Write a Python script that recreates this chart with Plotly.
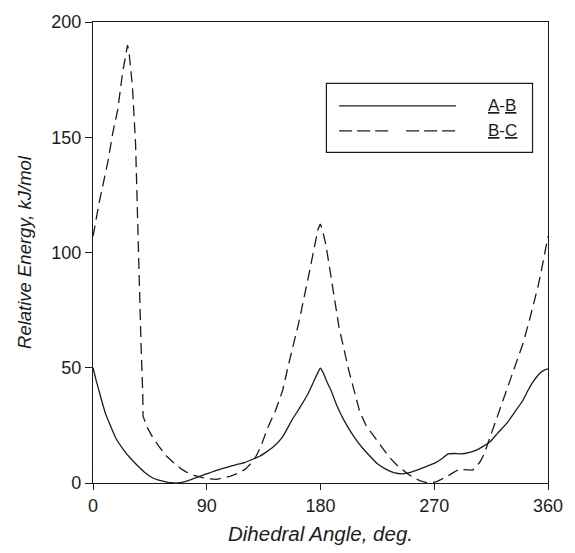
import plotly.graph_objects as go

# Solid curve A-B
ab_angle = [0, 2.5, 5, 7.5, 10, 13, 18, 24.3, 30, 35.7, 41, 47, 52, 58.3, 62, 66.6, 72, 78, 85,
            92.3, 99, 106.5, 113, 120.5, 126, 131.9, 137, 143.2, 150, 157.4, 164, 170.2, 175, 178,
            179.8, 182, 185, 188.3, 193, 198.5, 206.3, 212.7, 219.2, 225, 232, 238, 244.9, 251,
            257.8, 264, 270.7, 276, 281, 286, 291.3, 298, 304.2, 309, 314.4, 320, 327.3, 334,
            340.2, 344, 348, 351, 354.4, 357, 360]
ab_energy = [50, 44.5, 39.5, 34.5, 30, 25.9, 19.5, 14.3, 10.5, 7.3, 4.6, 2.3, 1.2, 0.4, 0.1, 0, 0.5, 1.6, 3,
             4.4, 5.7, 6.9, 7.9, 9, 10.2, 11.6, 13.4, 15.9, 20, 27.3, 33, 38.8, 44.5, 48,
             49.8, 48, 44, 40.2, 33.5, 27.3, 20.2, 15.5, 11.6, 8.3, 5.9, 4.5, 4.0, 4.6,
             5.9, 7.2, 8.7, 10.5, 12.6, 12.8, 12.6, 13.3, 14.5, 16, 18, 21.5, 25.9, 31,
             35.9, 40, 43.8, 46, 48, 49, 49.5]

# Dashed curve B-C
bc_angle = [0, 5, 9.3, 12, 15.7, 19.6, 23.4, 26, 27.3, 28.5, 31.2, 33.7, 35, 36.3, 38, 39.4, 39.6,
            43, 47, 52, 58.3, 64, 70, 74, 80, 86.6, 92, 98, 104, 109, 115, 120.5, 125, 129, 133,
            137.5, 144.5, 150, 154.8, 162.5, 170.2, 175.4, 178, 179.8, 181.5, 184.4, 188.3, 194.7,
            202.4, 211, 216, 222.5, 228, 233.8, 240, 248, 254, 259, 264, 267.8, 272, 276, 280,
            284.7, 290.4, 293, 296, 300.3, 303, 306, 309.3, 314, 319.6, 324, 329.9, 335, 340.2,
            345, 349.2, 352, 355.1, 358, 360]
bc_energy = [107, 122, 133, 140, 152, 162, 178, 187, 190, 187, 172, 147, 119, 90, 60, 38, 29,
             24, 20, 16, 11.6, 8.7, 6, 4.7, 3.3, 2.3, 1.8, 1.6, 2.2, 3, 4.3, 6, 8.5, 11.6, 16,
             23, 31.6, 40, 51.6, 68.8, 88.8, 103, 110, 112.4, 110, 103, 89, 67.4,
             48.8, 31, 25, 20, 15.5, 11.6, 8, 4.4, 2.2, 0.9, 0.2, 0.1, 0.6, 1.6, 2.8,
             4.4, 6.2, 5.8, 5.6, 5.6, 7, 9, 12.3, 19.5, 28.5, 35.3, 44.4, 52.3, 60.5,
             70, 78.8, 85, 93.1, 101, 107]

x_ticks = [0, 90, 180, 270, 360]
y_ticks = [0, 50, 100, 150, 200]

FONT = "Liberation Sans, Arial, sans-serif"
INK = "#1c1c1c"

fig = go.Figure()
fig.add_trace(go.Scatter(x=ab_angle, y=ab_energy, mode="lines", name="A-B",
                         line=dict(color=INK, width=1.3, shape="spline", smoothing=0.4),
                         showlegend=False))
fig.add_trace(go.Scatter(x=bc_angle, y=bc_energy, mode="lines", name="B-C",
                         line=dict(color=INK, width=1.3, dash="11px,6px"),
                         showlegend=False))

# Legend box drawn manually (long line samples as in the original)
fig.add_shape(type="rect", xref="paper", yref="paper", x0=0.513, x1=0.966, y0=0.717, y1=0.867,
              line=dict(color=INK, width=1.2), fillcolor="white", layer="above")
fig.add_shape(type="line", xref="paper", yref="paper", x0=0.541, x1=0.798, y0=0.818, y1=0.818,
              line=dict(color=INK, width=1.3))
fig.add_shape(type="line", xref="paper", yref="paper", x0=0.541, x1=0.798, y0=0.764, y1=0.764,
              line=dict(color=INK, width=1.3, dash="13px,5px,13px,5px,13px,18px"))
fig.add_annotation(xref="paper", yref="paper", x=0.863, y=0.818, xanchor="left", yanchor="middle",
                   text="<u>A</u>-<u>B</u>", showarrow=False, font=dict(family=FONT, size=17, color=INK))
fig.add_annotation(xref="paper", yref="paper", x=0.863, y=0.764, xanchor="left", yanchor="middle",
                   text="<u>B</u>-<u>C</u>", showarrow=False, font=dict(family=FONT, size=17, color=INK))

fig.update_layout(
    width=575, height=553,
    margin=dict(l=93, r=16, t=21, b=66),
    paper_bgcolor="white", plot_bgcolor="white",
    font=dict(family=FONT, size=18, color=INK),
    xaxis=dict(range=[0, 360], tickvals=x_ticks, ticks="outside", ticklen=6, tickwidth=1.2,
               tickcolor=INK, showline=True, linecolor=INK, linewidth=1.2, mirror=True,
               showgrid=False, zeroline=False,
               title=dict(text="<i>Dihedral Angle, deg.</i>", font=dict(size=20.5), standoff=11)),
    yaxis=dict(range=[0, 200], tickvals=y_ticks, ticks="outside", ticklen=7, tickwidth=1.2,
               tickcolor=INK, showline=True, linecolor=INK, linewidth=1.2, mirror=True,
               showgrid=False, zeroline=False,
               title=dict(text="<i>Relative Energy, kJ/mol</i>", font=dict(size=18.5), standoff=14)),
)

fig.write_html("out.html")
